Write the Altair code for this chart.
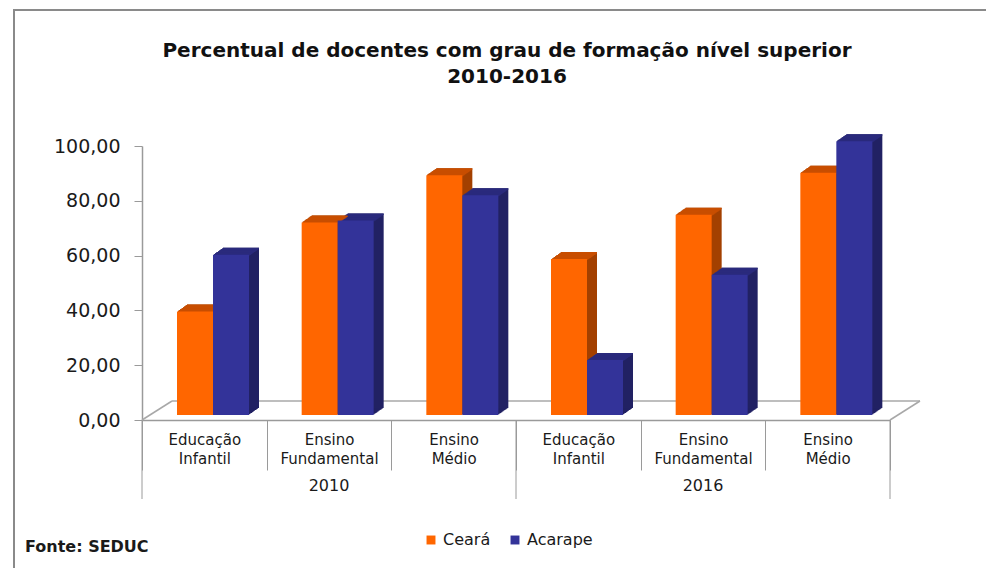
import altair as alt
import pandas as pd

# ---------------- data ----------------
categories = ["Educação Infantil", "Ensino Fundamental", "Ensino Médio"]
years = ["2010", "2016"]
series = ["Ceará", "Acarape"]
ceara = [37.8, 70.3, 87.5, 56.9, 73.1, 88.4]
acarape = [58.5, 71.0, 80.2, 20.1, 51.2, 99.9]
y_ticks = [0, 20, 40, 60, 80, 100]
title_lines = ["Percentual de docentes com grau de formação nível superior", "2010-2016"]
source_text = "Fonte: SEDUC"

keys = [f"{y}|{c}" for y in years for c in categories]

front_colors = {"Ceará": "#FF6600", "Acarape": "#333399"}
top_colors = {"Ceará": "#C84E00", "Acarape": "#2A2A7C"}
side_colors = {"Ceará": "#A34000", "Acarape": "#212163"}

rows = []
for i, k in enumerate(keys):
    for s, vals in zip(series, [ceara, acarape]):
        rows.append({"key": k, "series": s, "value": vals[i],
                     "top": top_colors[s], "side": side_colors[s]})
df = pd.DataFrame(rows)
dummy = pd.DataFrame({"d": [0]})

FONT = "DejaVu Sans"
TXT = "#1a1a1a"
AX = "#9a9a9a"
W, H = 748, 274

x_axis = alt.Axis(title=None,
                  labelExpr="(isString(datum.label) && indexof(datum.label, '|') > 0) ? "
                            "split(split(datum.label, '|')[1], ' ') : ''",
                  labelAngle=0, labelFont=FONT, labelFontSize=15, labelColor=TXT,
                  labelLineHeight=19, labelPadding=-38, tickBand="extent",
                  tickSize=50, tickColor=AX, domainColor=AX, domainWidth=1.5)
x_scale = alt.Scale(domain=keys, paddingInner=0, paddingOuter=0)
x_enc = alt.X("key:N", sort=keys, scale=x_scale, axis=x_axis)

y_axis = alt.Axis(title=None, values=y_ticks,
                  labelExpr="replace(format(datum.value, '.2f'), '.', ',')",
                  labelFont=FONT, labelFontSize=19, labelColor=TXT,
                  tickSize=8, labelPadding=14, tickColor=AX, domainColor=AX,
                  domainWidth=1.5, grid=False)
y_enc = alt.Y("value:Q", scale=alt.Scale(domain=[0, 100], nice=False), axis=y_axis)

PAIR_L, PAIR_R = 35, 107   # pixel span of the bar pair inside each category band


def xo(shift):
    return alt.XOffset("series:N", sort=series,
                       scale=alt.Scale(domain=series, paddingInner=0, paddingOuter=0,
                                       range=[PAIR_L + shift, PAIR_R + shift]))


base = alt.Chart(df)
BASE = -5
depth = [(k, round(0.7 * k, 1)) for k in range(1, 11)]

layers = []
# frame
layers.append(alt.Chart(dummy).mark_rect(fill="transparent", stroke="#8a8a8a", strokeWidth=2)
              .encode(x=alt.value(-128), x2=alt.value(900), y=alt.value(-136), y2=alt.value(520)))
# title
layers.append(alt.Chart(dummy).mark_text(text=title_lines[0], font=FONT, fontSize=20,
                                         fontWeight="bold", color="#111111", baseline="middle")
              .encode(x=alt.value(365), y=alt.value(-95)))
layers.append(alt.Chart(dummy).mark_text(text=title_lines[1], font=FONT, fontSize=20,
                                         fontWeight="bold", color="#111111", baseline="middle")
              .encode(x=alt.value(365), y=alt.value(-69)))
# floor
floor_style = dict(color="#a8a8a8", strokeWidth=1.5)
layers.append(alt.Chart(dummy).mark_rule(**floor_style)
              .encode(x=alt.value(30), x2=alt.value(W + 30), y=alt.value(H - 19), y2=alt.value(H - 19)))
layers.append(alt.Chart(dummy).mark_rule(**floor_style)
              .encode(x=alt.value(0), x2=alt.value(30), y=alt.value(H), y2=alt.value(H - 19)))
layers.append(alt.Chart(dummy).mark_rule(**floor_style)
              .encode(x=alt.value(W), x2=alt.value(W + 30), y=alt.value(H), y2=alt.value(H - 19)))

# side extrusion
for k, d in depth:
    layers.append(base.mark_bar(yOffset=BASE - d, y2Offset=BASE - d)
                  .encode(x=x_enc, xOffset=xo(k), y=y_enc, y2=alt.datum(0),
                          color=alt.Color("side:N", scale=None)))
# top faces
for k, d in depth:
    layers.append(base.mark_bar(yOffset=BASE - d, y2Offset=BASE - d + 1.6)
                  .encode(x=x_enc, xOffset=xo(k), y=y_enc, y2="value:Q",
                          color=alt.Color("top:N", scale=None)))
# front faces
layers.append(base.mark_bar(yOffset=BASE, y2Offset=BASE)
              .encode(x=x_enc, xOffset=xo(0), y=y_enc, y2=alt.datum(0),
                      color=alt.Color("series:N",
                                      scale=alt.Scale(domain=series,
                                                      range=[front_colors[s] for s in series]),
                                      legend=alt.Legend(title=None, orient="none", legendX=281,
                                                        legendY=386, direction="horizontal",
                                                        symbolType="square", symbolSize=80,
                                                        symbolStrokeWidth=0, labelFont=FONT,
                                                        labelFontSize=16, labelColor=TXT,
                                                        columnPadding=16, labelOffset=4))))

# year separators (outer and middle boundaries of the two year groups) and labels
for xpos in [0, W / 2, W]:
    layers.append(alt.Chart(dummy).mark_rule(color=AX, strokeWidth=1)
                  .encode(x=alt.value(xpos), y=alt.value(H), y2=alt.value(H + 79)))
year_mid = pd.DataFrame({"key": [f"{y}|{categories[1]}" for y in years], "year": years})
layers.append(alt.Chart(year_mid).mark_text(font=FONT, fontSize=16, color=TXT)
              .encode(x=x_enc, y=alt.value(340), text="year:N"))

# source
layers.append(alt.Chart(dummy).mark_text(text=source_text, font=FONT, fontSize=16,
                                         fontWeight="bold", color=TXT, align="left",
                                         baseline="middle")
              .encode(x=alt.value(-117), y=alt.value(401)))

chart = alt.layer(*layers).resolve_scale(xOffset="independent").properties(
    width=W, height=H,
    autosize=alt.AutoSizeParams(type="none"),
    padding={"left": 134, "top": 138, "right": 96, "bottom": 148},
).configure_view(strokeWidth=0)

chart.save("out.html", embed_options={"renderer": "svg", "actions": False})
